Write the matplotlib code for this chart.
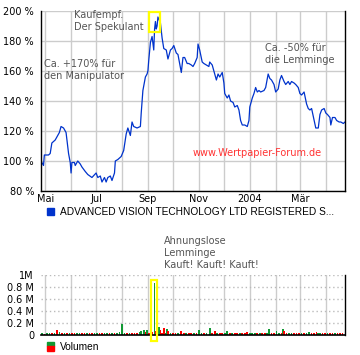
import numpy as np
import pandas as pd
import matplotlib
matplotlib.use('Agg')
import matplotlib.pyplot as plt
import matplotlib.dates as mdates
from matplotlib.patches import Rectangle
from matplotlib.ticker import FuncFormatter

start = pd.Timestamp("2003-05-01")

# price in % of start, x in days after 1 May 2003
price_days = [-5, -2, -1, 4, 6, 8, 12, 14, 17, 19, 22, 25, 28, 30, 31, 32, 35, 36, 39, 42,
              44, 48, 51, 56, 61, 63, 66, 68, 71, 73, 75, 78, 80, 83, 84, 87, 91, 94, 97, 99,
              102, 104, 106, 110, 114, 115, 117, 120, 122, 123, 124, 126, 128, 130, 131, 132, 133, 134, 135, 138,
              140, 142, 145, 147, 150, 152, 154, 157, 159, 161, 163, 165, 167, 170, 172, 175, 177, 179, 182, 183,
              185, 188, 190, 193, 196, 197, 200, 202, 205, 207, 209, 212, 214, 215, 218, 220, 222, 225, 227, 230,
              232, 234, 236, 239, 242, 244, 245, 248, 250, 252, 254, 256, 258, 262, 264, 267, 269, 271, 274, 276,
              279, 281, 283, 286, 288, 291, 293, 295, 298, 300, 303, 305, 307, 310, 313, 315, 317, 319, 322, 324,
              327, 329, 331, 334, 336, 338, 341, 342, 344, 347, 349, 352, 354, 357, 359]
price_pct = [100, 97, 104, 104, 105, 112, 114, 116, 119, 123, 122, 119, 105, 99, 92, 99, 99, 97, 100, 98,
             96, 93, 91, 89, 92, 89, 90, 86, 89, 86, 89, 90, 87, 92, 100, 101, 103, 107, 118, 122,
             117, 126, 123, 122, 123, 132, 147, 156, 158, 160, 167, 179, 183, 174, 188, 193, 188, 190, 196, 192,
             182, 175, 174, 168, 174, 175, 177, 172, 171, 165, 159, 169, 169, 165, 165, 164, 163, 165, 169, 178,
             174, 166, 165, 164, 163, 166, 164, 160, 154, 158, 156, 159, 152, 145, 142, 144, 140, 139, 136, 137,
             134, 127, 124, 124, 123, 127, 136, 142, 145, 149, 146, 147, 146, 147, 149, 158, 155, 154, 151, 146,
             148, 154, 157, 153, 151, 153, 151, 153, 152, 151, 149, 145, 144, 146, 138, 135, 134, 135, 127, 122,
             122, 131, 134, 135, 132, 131, 129, 124, 129, 129, 127, 126, 126, 125, 126]

# volume in millions, "g" = up day, "r" = down day
vol_days = [-4, -1, 2, 5, 8, 11, 14, 17, 20, 23, 26, 29, 32, 35, 38, 41, 44, 47, 50, 53,
            56, 59, 62, 65, 68, 71, 74, 77, 80, 83, 86, 89, 92, 95, 98, 101, 104, 107, 110, 113,
            115, 118, 120, 122, 124, 126, 128, 131, 133, 136, 138, 140, 142, 144, 146, 147, 150, 153, 156, 159,
            163, 166, 169, 172, 175, 178, 181, 184, 187, 190, 193, 197, 200, 203, 206, 209, 212, 215, 218, 221,
            224, 227, 230, 233, 236, 239, 242, 245, 248, 251, 254, 257, 260, 263, 266, 268, 271, 274, 277, 280,
            283, 285, 286, 289, 292, 295, 298, 301, 304, 307, 310, 313, 316, 319, 322, 325, 327, 329, 332, 335,
            338, 341, 344, 347, 350, 353, 356]
vol_values = [0.03, 0.02, 0.03, 0.03, 0.04, 0.03, 0.08, 0.05, 0.03, 0.04, 0.03, 0.03, 0.04, 0.03, 0.03, 0.03, 0.04, 0.03, 0.03, 0.03,
              0.04, 0.03, 0.03, 0.03, 0.04, 0.03, 0.03, 0.03, 0.04, 0.03, 0.04, 0.05, 0.18, 0.04, 0.03, 0.03, 0.03, 0.03, 0.04, 0.05,
              0.06, 0.08, 0.05, 0.08, 0.04, 0.08, 0.05, 0.87, 0.06, 0.13, 0.08, 0.04, 0.12, 0.04, 0.10, 0.06, 0.04, 0.03, 0.03, 0.04,
              0.06, 0.03, 0.04, 0.03, 0.03, 0.03, 0.04, 0.08, 0.03, 0.04, 0.03, 0.12, 0.04, 0.06, 0.03, 0.03, 0.03, 0.04, 0.06, 0.03,
              0.03, 0.04, 0.03, 0.03, 0.04, 0.03, 0.05, 0.03, 0.04, 0.03, 0.04, 0.03, 0.03, 0.04, 0.04, 0.10, 0.04, 0.03, 0.06, 0.04,
              0.03, 0.10, 0.06, 0.04, 0.03, 0.04, 0.03, 0.03, 0.04, 0.03, 0.03, 0.04, 0.05, 0.03, 0.04, 0.05, 0.03, 0.04, 0.03, 0.03,
              0.03, 0.03, 0.03, 0.03, 0.03, 0.03, 0.03]
vol_up = ["g", "r", "g", "g", "r", "g", "r", "g", "r", "g", "r", "g", "r", "r", "g", "g", "r", "r", "g", "r",
          "r", "g", "g", "r", "r", "g", "g", "r", "g", "r", "g", "g", "g", "g", "r", "g", "r", "r", "r", "g",
          "g", "g", "r", "g", "r", "g", "r", "g", "r", "g", "r", "r", "r", "g", "g", "r", "g", "r", "r", "g",
          "r", "r", "g", "r", "r", "g", "r", "g", "g", "r", "g", "g", "r", "r", "g", "r", "r", "g", "g", "r",
          "g", "r", "r", "g", "r", "r", "r", "g", "g", "g", "r", "g", "r", "r", "g", "g", "r", "r", "g", "g",
          "r", "g", "r", "r", "g", "g", "r", "r", "r", "g", "r", "g", "g", "r", "r", "r", "g", "g", "r", "r",
          "g", "r", "r", "g", "r", "r", "r"]

month_names = {1: "2004", 3: "Mär", 5: "Mai", 7: "Jul", 9: "Sep", 11: "Nov"}
ytick_vals = [80, 100, 120, 140, 160, 180, 200]
vol_ticks = [0, 0.2, 0.4, 0.6, 0.8, 1.0]
vol_labels = ["0", "0.2 M", "0.4 M", "0.6 M", "0.8 M", "1M"]

price_x = start + pd.to_timedelta(price_days, unit="D")
vol_x = start + pd.to_timedelta(vol_days, unit="D")
xmin = start + pd.Timedelta(days=-5)
xmax = start + pd.Timedelta(days=359)

W, H = 360, 355
fig = plt.figure(figsize=(3.6, 3.55), dpi=100)
fig.patch.set_facecolor("white")

def fx(px):
    return px / W

def fy(py):
    return 1 - py / H

grid_c = "#cccccc"

# main price chart
ax = fig.add_axes([fx(41), fy(191), 304 / W, 180 / H])
ax.plot(price_x, price_pct, color="#0033cc", lw=0.9)
ax.set_xlim(xmin, xmax)
ax.set_ylim(80, 200)
ax.set_yticks(ytick_vals)
ax.set_yticklabels([f"{v} %" for v in ytick_vals])
ax.xaxis.set_major_locator(mdates.MonthLocator(bymonth=[1, 3, 5, 7, 9, 11]))
ax.xaxis.set_minor_locator(mdates.MonthLocator())
ax.xaxis.set_major_formatter(FuncFormatter(lambda v, p: month_names[mdates.num2date(v).month]))
ax.grid(True, which="both", color=grid_c, lw=1.0)
ax.set_axisbelow(True)
ax.tick_params(axis="both", which="both", length=0, labelsize=7)
ax.tick_params(axis="y", pad=5)
ax.tick_params(axis="x", pad=2)
ax.spines["top"].set_visible(False)
for s in ["left", "bottom", "right"]:
    ax.spines[s].set_color("black")
    ax.spines[s].set_linewidth(1.0)

d0 = mdates.date2num(start)
ax.add_patch(Rectangle((d0 + 124, 186), 13.5, 13.3, fill=False, ec="#ffff00", lw=1.6, clip_on=False, zorder=5))

# volume chart
vax = fig.add_axes([fx(41), fy(335), 304 / W, 60 / H])
colors = ["#119933" if c == "g" else "#ff0000" for c in vol_up]
vax.bar(vol_x, vol_values, width=2.0, color=colors, lw=0)
vax.set_xlim(xmin, xmax)
vax.set_ylim(0, 1.0)
vax.set_yticks(vol_ticks)
vax.set_yticklabels(vol_labels)
vax.xaxis.set_major_locator(mdates.MonthLocator())
vax.xaxis.set_major_formatter(FuncFormatter(lambda v, p: ""))
vax.grid(True, axis="x", color=grid_c, lw=1.0)
vax.grid(True, axis="y", color="#bbbbbb", lw=1.0, ls=(0, (1, 2)))
vax.set_axisbelow(True)
vax.tick_params(axis="both", length=0, labelsize=7)
vax.tick_params(axis="y", pad=5)
vax.spines["top"].set_visible(False)
vax.spines["left"].set_visible(False)
vax.spines["bottom"].set_linewidth(1.2)
vax.spines["right"].set_linewidth(1.0)
vax.add_patch(Rectangle((d0 + 127, -0.1), 7, 1.02, fill=False, ec="#ffff00", lw=1.6, clip_on=False, zorder=5))

# texts
gray = "#555555"
fig.text(fx(74), fy(21), "Kaufempf.\nDer Spekulant", fontsize=7, color=gray, va="center", ha="left", linespacing=1.25)
fig.text(fx(44), fy(70), "Ca. +170% für\nden Manipulator", fontsize=7, color=gray, va="center", ha="left", linespacing=1.25)
fig.text(fx(265), fy(54), "Ca. -50% für\ndie Lemminge", fontsize=7, color=gray, va="center", ha="left", linespacing=1.25)
fig.text(fx(193), fy(153), "www.Wertpapier-Forum.de", fontsize=7, color="#ff3333", va="center", ha="left")
fig.text(fx(164), fy(253), "Ahnungslose\nLemminge\nKauft! Kauft! Kauft!", fontsize=7, color=gray, va="center", ha="left", linespacing=1.25)

# legends
fig.patches.append(Rectangle((fx(47), fy(215)), 7 / W, 7 / H, transform=fig.transFigure, color="#0033cc"))
fig.text(fx(60), fy(212), "ADVANCED VISION TECHNOLOGY LTD REGISTERED S...", fontsize=7.3,
         family="Liberation Sans", va="center", ha="left")
fig.patches.append(Rectangle((fx(47), fy(346)), 7 / W, 4 / H, transform=fig.transFigure, color="#119933"))
fig.patches.append(Rectangle((fx(47), fy(351)), 7 / W, 5 / H, transform=fig.transFigure, color="#ff0000"))
fig.text(fx(60), fy(347), "Volumen", fontsize=7.3, family="Liberation Sans", va="center", ha="left")

fig.savefig("out.png", dpi=100)
